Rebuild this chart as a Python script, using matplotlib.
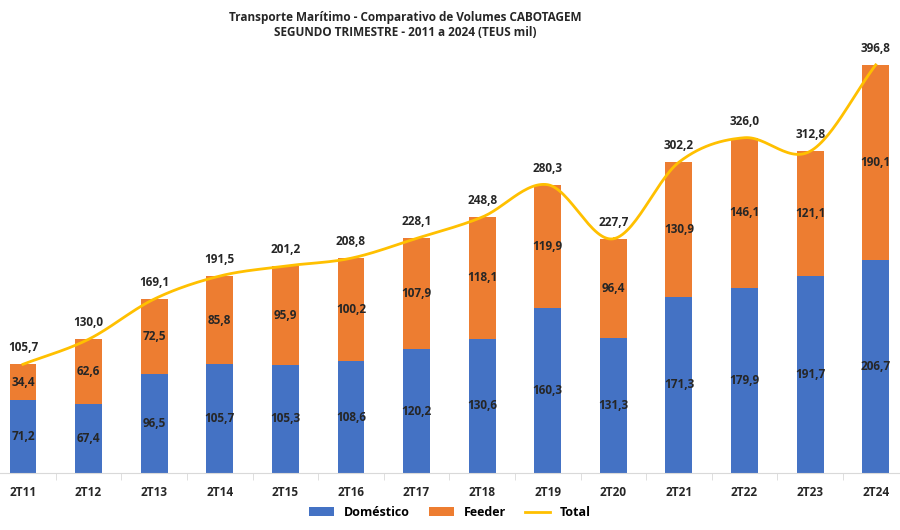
import numpy as np
import matplotlib.pyplot as plt

categorias = ["2T11", "2T12", "2T13", "2T14", "2T15", "2T16", "2T17",
              "2T18", "2T19", "2T20", "2T21", "2T22", "2T23", "2T24"]
domestico = [71.2, 67.4, 96.5, 105.7, 105.3, 108.6, 120.2,
             130.6, 160.3, 131.3, 171.3, 179.9, 191.7, 206.7]
feeder = [34.4, 62.6, 72.5, 85.8, 95.9, 100.2, 107.9,
          118.1, 119.9, 96.4, 130.9, 146.1, 121.1, 190.1]
total = [105.7, 130.0, 169.1, 191.5, 201.2, 208.8, 228.1,
         248.8, 280.3, 227.7, 302.2, 326.0, 312.8, 396.8]

AZUL = "#4472C4"
LARANJA = "#ED7D31"
AMARELO = "#FFC000"
TXT = "#262626"

plt.rcParams["font.family"] = ["Open Sans", "DejaVu Sans"]


def fmt(v):
    return f"{v:.1f}".replace(".", ",")


def suave(x, y, n=30):
    # curva suavizada (catmull-rom) passando pelos pontos
    x = np.asarray(x, float)
    y = np.asarray(y, float)
    px = np.concatenate([[2 * x[0] - x[1]], x, [2 * x[-1] - x[-2]]])
    py = np.concatenate([[2 * y[0] - y[1]], y, [2 * y[-1] - y[-2]]])
    xs, ys = [], []
    t = np.linspace(0, 1, n)
    for i in range(1, len(px) - 2):
        for p, out in ((px, xs), (py, ys)):
            p0, p1, p2, p3 = p[i - 1], p[i], p[i + 1], p[i + 2]
            out.extend(0.5 * ((2 * p1) + (-p0 + p2) * t
                              + (2 * p0 - 5 * p1 + 4 * p2 - p3) * t ** 2
                              + (-p0 + 3 * p1 - 3 * p2 + p3) * t ** 3))
    return xs, ys


fig = plt.figure(figsize=(9, 5.3), dpi=100)
ax = fig.add_axes([0, 57 / 530, 1, 433 / 530])

x = np.arange(len(categorias))
w = 0.41
b1 = ax.bar(x, domestico, w, color=AZUL, label="Doméstico", zorder=2)
b2 = ax.bar(x, feeder, w, bottom=domestico, color=LARANJA, label="Feeder", zorder=2)

sx, sy = suave(x, total)
ax.plot(sx, sy, color=AMARELO, lw=2, label="Total", zorder=3)

for i in range(len(x)):
    ax.text(x[i], domestico[i] / 2, fmt(domestico[i]), ha="center", va="center",
            fontsize=8.5, fontweight="bold", color=TXT, zorder=4)
    ax.text(x[i], domestico[i] + feeder[i] / 2, fmt(feeder[i]), ha="center",
            va="center", fontsize=8.5, fontweight="bold", color=TXT, zorder=4)
    ax.annotate(fmt(total[i]), (x[i], total[i]), xytext=(0, 12),
                textcoords="offset points", ha="center", va="center",
                fontsize=8.5, fontweight="bold", color=TXT, zorder=4)

ax.set_xlim(-0.35, 13.37)
ax.set_ylim(0, 421)
ax.set_yticks([])
for s in ("top", "right", "left"):
    ax.spines[s].set_visible(False)
ax.spines["bottom"].set_color("#d9d9d9")
ax.set_xticks(x)
ax.set_xticklabels(categorias, fontsize=8.5, fontweight="bold", color=TXT)
ax.tick_params(axis="x", length=0, pad=9)
ax.set_xticks(x[:-1] + 0.5, minor=True)
ax.tick_params(axis="x", which="minor", length=5, color="#d9d9d9")

fig.text(0.45, 0.967, "Transporte Marítimo - Comparativo de Volumes CABOTAGEM",
         ha="center", va="center", fontsize=8.5, fontweight="bold", color=TXT)
fig.text(0.45, 0.938, "SEGUNDO TRIMESTRE - 2011 a 2024 (TEUS mil)",
         ha="center", va="center", fontsize=8.5, fontweight="bold", color=TXT)

fig.legend(handles=[b1, b2, ax.lines[0]], loc="center", bbox_to_anchor=(0.5, 0.033),
           ncol=3, frameon=False, prop={"weight": "bold", "size": 9},
           handlelength=2.0, columnspacing=1.5)

fig.savefig("out.png", dpi=100)
